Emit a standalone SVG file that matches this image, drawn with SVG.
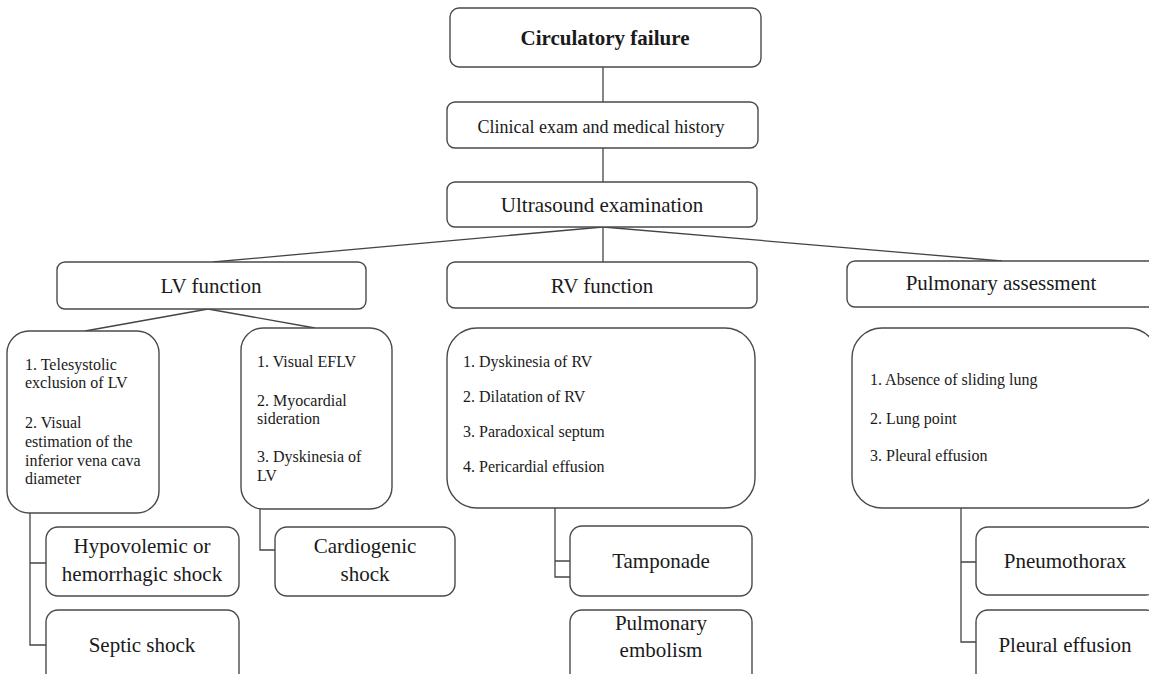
<svg xmlns="http://www.w3.org/2000/svg" width="1149" height="674" viewBox="0 0 1149 674">
<style>
.box{fill:#fff;stroke:#4a4a4a;stroke-width:1.4}
.ln{fill:none;stroke:#444;stroke-width:1.3}
.t1{font-size:21px;text-anchor:middle}
.t2{font-size:18px;text-anchor:middle}
.lst{font-size:16px}
.dx{font-size:21px;text-anchor:middle}
</style>
<rect width="1149" height="674" fill="#fff"/>
<g id="connectors">
<line class="ln" x1="603" y1="67" x2="603" y2="102"/>
<line class="ln" x1="603" y1="148" x2="603" y2="182"/>
<line class="ln" x1="603" y1="227" x2="213" y2="262"/>
<line class="ln" x1="603" y1="227" x2="603" y2="262"/>
<line class="ln" x1="603" y1="227" x2="1002" y2="261"/>
<line class="ln" x1="208" y1="309" x2="85" y2="331"/>
<line class="ln" x1="208" y1="309" x2="315" y2="328"/>
<path class="ln" d="M30 513 V645 H46 M30 563 H46"/>
<path class="ln" d="M260 509 V550 H275"/>
<path class="ln" d="M555 508 V577 H570 M555 561 H570"/>
<path class="ln" d="M961 508 V642 H976 M961 562 H976"/>
</g>
<g font-family="'Liberation Serif', Tinos, 'Times New Roman', 'DejaVu Serif', serif" fill="#1a1a1a">
<g id="circulatory-failure">
<rect class="box" x="450" y="8" width="311" height="59" rx="9"/>
<text x="605" y="45" font-size="21" font-weight="bold" text-anchor="middle">Circulatory failure</text>
</g>
<g id="clinical-exam">
<rect class="box" x="447" y="102" width="311" height="46" rx="8"/>
<text class="t2" x="601" y="133">Clinical exam and medical history</text>
</g>
<g id="ultrasound">
<rect class="box" x="447" y="182" width="310" height="45" rx="8"/>
<text class="t1" x="602" y="212">Ultrasound examination</text>
</g>
<g id="lv-function">
<rect class="box" x="57" y="262" width="309" height="47" rx="8"/>
<text class="t1" x="211" y="293">LV function</text>
</g>
<g id="rv-function">
<rect class="box" x="447" y="262" width="310" height="46" rx="8"/>
<text class="t1" x="602" y="293">RV function</text>
</g>
<g id="pulmonary-assessment">
<rect class="box" x="847" y="261" width="320" height="46" rx="8"/>
<text class="t1" x="1001" y="290">Pulmonary assessment</text>
</g>
<g id="lv-findings-1">
<rect class="box" x="7" y="331" width="152" height="182" rx="22"/>
<text class="lst" x="25"><tspan x="25" y="370">1. Telesystolic</tspan><tspan x="25" y="388">exclusion of LV</tspan><tspan x="25" y="428">2. Visual</tspan><tspan x="25" y="447">estimation of the</tspan><tspan x="25" y="466">inferior vena cava</tspan><tspan x="25" y="484">diameter</tspan></text>
</g>
<g id="lv-findings-2">
<rect class="box" x="241" y="328" width="151" height="181" rx="22"/>
<text class="lst" x="257"><tspan x="257" y="367">1. Visual EFLV</tspan><tspan x="257" y="406">2. Myocardial</tspan><tspan x="257" y="424">sideration</tspan><tspan x="257" y="462">3. Dyskinesia of</tspan><tspan x="257" y="481">LV</tspan></text>
</g>
<g id="rv-findings">
<rect class="box" x="447" y="328" width="308" height="180" rx="30"/>
<text class="lst" x="463"><tspan x="463" y="367">1. Dyskinesia of RV</tspan><tspan x="463" y="402">2. Dilatation of RV</tspan><tspan x="463" y="437">3. Paradoxical septum</tspan><tspan x="463" y="472">4. Pericardial effusion</tspan></text>
</g>
<g id="pulmonary-findings">
<rect class="box" x="852" y="328" width="306" height="180" rx="30"/>
<text class="lst" x="870"><tspan x="870" y="385">1. Absence of sliding lung</tspan><tspan x="870" y="424">2. Lung point</tspan><tspan x="870" y="461">3. Pleural effusion</tspan></text>
</g>
<g id="hypovolemic-shock">
<rect class="box" x="46" y="527" width="193" height="69" rx="12"/>
<text class="dx" x="142" y="553">Hypovolemic or</text>
<text class="dx" x="142" y="581">hemorrhagic shock</text>
</g>
<g id="septic-shock">
<rect class="box" x="46" y="610" width="193" height="80" rx="12"/>
<text class="dx" x="142" y="652">Septic shock</text>
</g>
<g id="cardiogenic-shock">
<rect class="box" x="275" y="527" width="180" height="69" rx="12"/>
<text class="dx" x="365" y="553">Cardiogenic</text>
<text class="dx" x="365" y="581">shock</text>
</g>
<g id="tamponade">
<rect class="box" x="570" y="526" width="182" height="70" rx="12"/>
<text class="dx" x="661" y="568">Tamponade</text>
</g>
<g id="pulmonary-embolism">
<rect class="box" x="570" y="610" width="182" height="80" rx="12"/>
<text class="dx" x="661" y="630">Pulmonary</text>
<text class="dx" x="661" y="657">embolism</text>
</g>
<g id="pneumothorax">
<rect class="box" x="976" y="527" width="182" height="68" rx="12"/>
<text class="dx" x="1065" y="568">Pneumothorax</text>
</g>
<g id="pleural-effusion">
<rect class="box" x="976" y="610" width="182" height="80" rx="12"/>
<text class="dx" x="1065" y="652">Pleural effusion</text>
</g>
</g>
</svg>
